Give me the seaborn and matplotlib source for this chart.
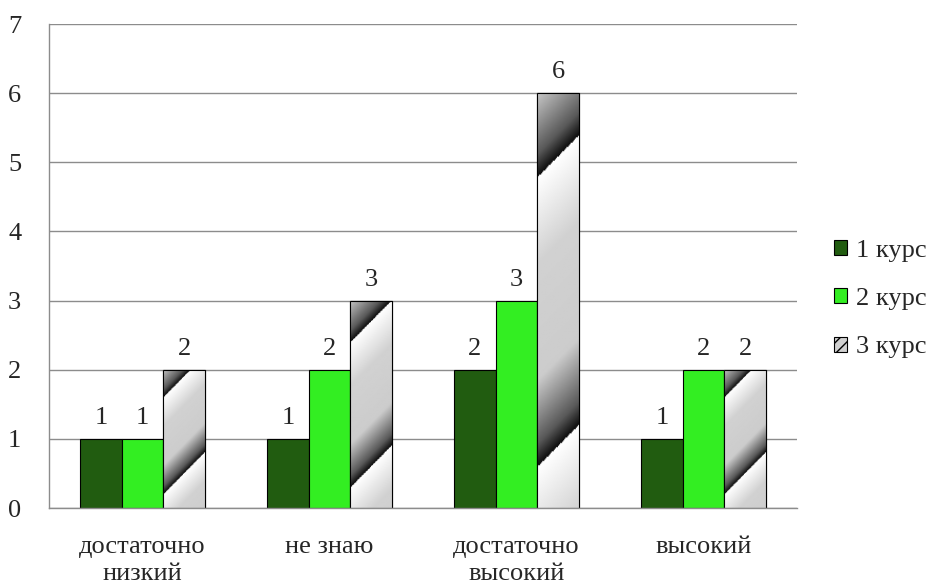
import numpy as np
import pandas as pd
import matplotlib
matplotlib.use("Agg")
import matplotlib.pyplot as plt
import seaborn as sns
from matplotlib.patches import Rectangle

# Data
categories = ["достаточно\nнизкий", "не знаю", "достаточно\nвысокий", "высокий"]
courses = ["1 курс", "2 курс", "3 курс"]
course1 = [1, 1, 2, 1]
course2 = [1, 2, 3, 2]
course3 = [2, 3, 6, 2]
yticks = [0, 1, 2, 3, 4, 5, 6, 7]

colors = ["#215C10", "#33EE22", "#cfcfcf"]

df = pd.DataFrame({
    "category": categories * 3,
    "course": [c for c in courses for _ in categories],
    "value": course1 + course2 + course3,
})

sns.set_style("white")
plt.rcParams["font.family"] = ["Liberation Serif", "DejaVu Serif"]
FS = 19

fig = plt.figure(figsize=(9.34, 5.83), dpi=100)
ax = fig.add_axes([0.0525, 0.1286, 0.8008, 0.8302])

sns.barplot(data=df, x="category", y="value", hue="course", order=categories,
            hue_order=courses, palette=colors, width=0.667, errorbar=None,
            edgecolor="black", linewidth=0.8, saturation=1, ax=ax, legend=False)

ax.set_ylim(0, 7)
ax.set_xlim(-0.5, 3.5)
ax.set_yticks(yticks)
ax.yaxis.grid(True, color="#8c8c8c", linewidth=1)
ax.set_axisbelow(True)
for side in ["top", "right"]:
    ax.spines[side].set_visible(False)
for side in ["left", "bottom"]:
    ax.spines[side].set_color("#8c8c8c")
    ax.spines[side].set_linewidth(1)
ax.tick_params(axis="both", length=0, labelsize=FS)
ax.tick_params(axis="y", pad=20)
ax.tick_params(axis="x", pad=20)
ax.set_xlabel("")
ax.set_ylabel("")
for lbl in ax.get_xticklabels():
    lbl.set_linespacing(1.3)

# metallic striped fill for 3rd course
def stripe_fill(patch):
    x0, y0 = patch.get_x(), patch.get_y()
    w, h = patch.get_width(), patch.get_height()
    p0 = ax.transData.transform((x0, y0))
    p1 = ax.transData.transform((x0 + w, y0 + h))
    w_px, h_px = p1[0] - p0[0], p1[1] - p0[1]
    nv, nu = 300, 40
    u = np.linspace(0, 1, nu)[None, :]
    v = np.linspace(0, 1, nv)[:, None]
    d = (v * h_px - 1.0 * u * w_px) / (0.7 * h_px) - 0.14
    t = d - np.floor(d)
    b = np.interp(t, [0, 0.08, 0.3, 0.7, 1.0], [0.05, 0.35, 0.8, 0.82, 1.0])
    im = ax.imshow(b, cmap="gray", vmin=0, vmax=1, origin="lower",
                   extent=[x0, x0 + w, y0, y0 + h], aspect="auto",
                   interpolation="bilinear", zorder=patch.get_zorder() + 0.1)
    im.set_clip_path(patch)
    ax.add_patch(Rectangle((x0, y0), w, h, fill=False, edgecolor="black",
                           linewidth=0.8, zorder=patch.get_zorder() + 0.2))

for patch in ax.containers[2].patches:
    stripe_fill(patch)

ax.set_ylim(0, 7)
ax.set_xlim(-0.5, 3.5)

for cont in ax.containers:
    ax.bar_label(cont, padding=7, fontsize=FS)

# legend
handles = [Rectangle((0, 0), 1, 1, facecolor=colors[0], edgecolor="black", linewidth=0.8),
           Rectangle((0, 0), 1, 1, facecolor=colors[1], edgecolor="black", linewidth=0.8),
           Rectangle((0, 0), 1, 1, facecolor="#d0d0d0", edgecolor="black", linewidth=0.8,
                     hatch="///")]
fig.legend(handles, courses, loc="center left", bbox_to_anchor=(0.893, 0.487),
           frameon=False, fontsize=FS, handlelength=0.5, handleheight=0.5,
           handletextpad=0.35, labelspacing=1.0, borderpad=0, borderaxespad=0)

fig.savefig("out.png", dpi=100)
